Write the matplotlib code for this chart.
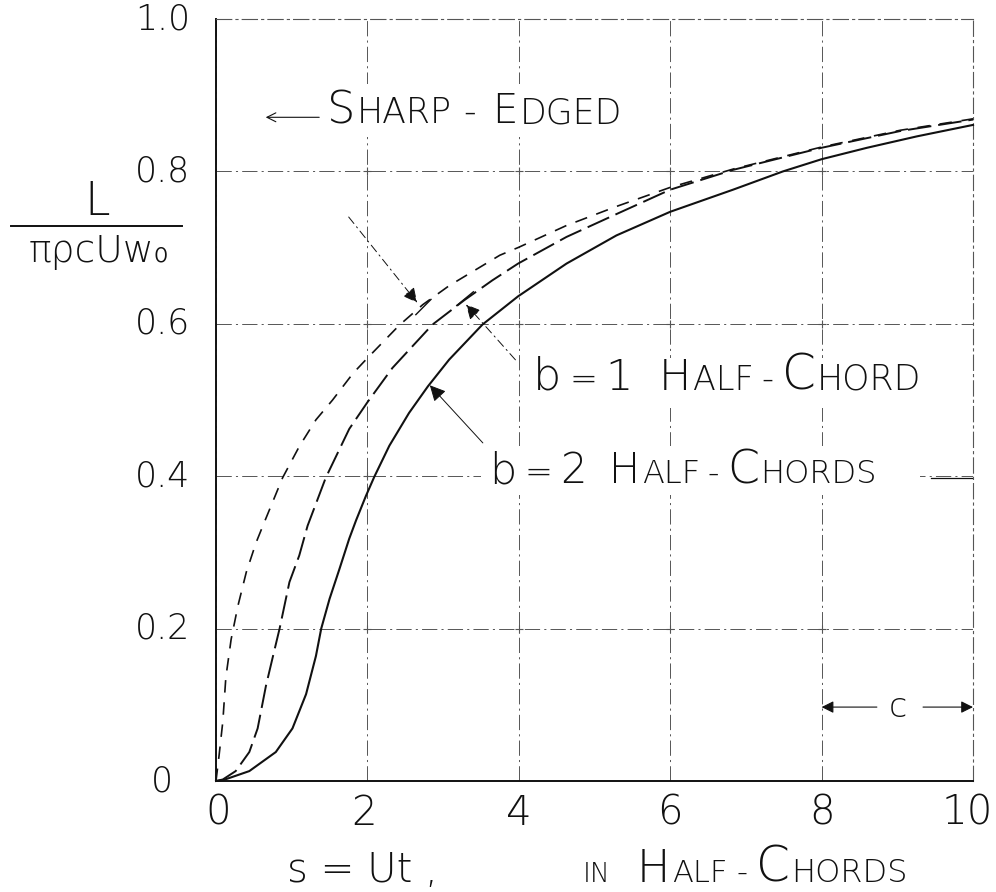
import matplotlib
matplotlib.use("Agg")
import matplotlib.pyplot as plt
from matplotlib.lines import Line2D
from matplotlib.patches import Rectangle
from matplotlib.transforms import IdentityTransform

# ---------------- data ----------------
sharp_x = [0, 0.04, 0.09, 0.13, 0.20, 0.29, 0.40, 0.53, 0.64, 0.88, 1.10, 1.32, 1.54,
           1.81, 2.00, 2.42, 2.73, 3.08, 3.75, 3.99, 4.63, 5.29, 6.0, 6.83, 8.0, 9.04, 10.0]
sharp_y = [0, 0.033, 0.078, 0.136, 0.186, 0.230, 0.274, 0.313, 0.340, 0.398, 0.439, 0.474, 0.500,
           0.535, 0.555, 0.598, 0.625, 0.650, 0.690, 0.700, 0.729, 0.754, 0.779, 0.803, 0.832, 0.854, 0.869]

b1_x = [0, 0.09, 0.26, 0.44, 0.55, 0.66, 0.77, 0.84, 0.97, 1.10, 1.21, 1.45, 1.76, 2.00,
        2.33, 2.86, 3.28, 3.65, 3.99, 4.63, 5.29, 6.0, 6.83, 8.0, 9.04, 10.0]
b1_y = [0, 0.002, 0.013, 0.038, 0.069, 0.125, 0.171, 0.200, 0.261, 0.296, 0.335, 0.398, 0.462, 0.497,
        0.542, 0.599, 0.631, 0.657, 0.679, 0.714, 0.744, 0.776, 0.802, 0.831, 0.853, 0.868]

b2_x = [0, 0.09, 0.44, 0.79, 1.01, 1.19, 1.32, 1.39, 1.50, 1.63, 1.76, 1.85, 1.98, 2.09,
        2.29, 2.55, 2.80, 3.08, 3.52, 3.99, 4.63, 5.29, 6.0, 6.83, 7.49, 8.0, 8.60, 9.26, 10.0]
b2_y = [0, 0.001, 0.013, 0.038, 0.069, 0.114, 0.164, 0.200, 0.239, 0.278, 0.318, 0.342, 0.374, 0.399,
        0.440, 0.483, 0.518, 0.553, 0.599, 0.636, 0.679, 0.716, 0.747, 0.776, 0.800, 0.816, 0.831, 0.846, 0.861]

x_ticks = [0, 2, 4, 6, 8, 10]
x_tick_labels = ["0", "2", "4", "6", "8", "10"]
y_ticks = [0, 0.2, 0.4, 0.6, 0.8, 1.0]
y_tick_labels = ["0", "0.2", "0.4", "0.6", "0.8", "1.0"]

# ---------------- style ----------------
plt.rcParams["font.family"] = ["DejaVu Sans"]
plt.rcParams["font.weight"] = "light"
plt.rcParams["lines.scale_dashes"] = False

W, H = 996, 892
INK = "#111111"
GRID = "#555555"
grid_ls = (0, (11, 3, 1.5, 3))

fig = plt.figure(figsize=(W / 100, H / 100), dpi=100)
ax = fig.add_axes([216 / W, 111 / H, 757 / W, 762 / H])
ax.set_xlim(0, 10)
ax.set_ylim(0, 1.0)
renderer = fig.canvas.get_renderer()

# grid
ax.set_xticks(x_ticks)
ax.set_yticks(y_ticks)
ax.grid(True, color=GRID, lw=0.7, ls=grid_ls, zorder=0.5)
ax.set_axisbelow(True)
for xs in x_ticks[1:-1]:
    for ys in y_ticks[1:-1]:
        ax.plot([xs], [ys], marker="+", ms=6, mew=0.8, color=GRID, zorder=1)

# spines
for side in ("left", "bottom"):
    ax.spines[side].set_color(INK)
    ax.spines[side].set_linewidth(1.4)
for side in ("top", "right"):
    ax.spines[side].set_color(GRID)
    ax.spines[side].set_linewidth(0.8)
    ax.spines[side].set_linestyle(grid_ls)

# white patches behind the lettered notes (hide grid lines there)
for (x0, y0, w, h) in [(1.45, 0.845, 4.4, 0.07), (4.1, 0.49, 5.0, 0.065), (3.5, 0.375, 5.8, 0.065)]:
    ax.add_patch(Rectangle((x0, y0), w, h, fc="white", ec="none", zorder=2))

# curves
ax.plot(sharp_x, sharp_y, color=INK, lw=1.2, dashes=(9, 7), zorder=3, clip_on=False)
ax.plot(b1_x, b1_y, color=INK, lw=1.4, dashes=(17, 5), zorder=3, clip_on=False)
ax.plot(b2_x, b2_y, color=INK, lw=1.5, zorder=3, clip_on=False)

# tick labels
ax.tick_params(axis="both", length=0, labelleft=False, labelbottom=False)
xtr = ax.get_xaxis_transform()
for v, s in zip(x_ticks, x_tick_labels):
    xpos = v + (0.03 if v == 0 else 0) - (0.08 if v == 10 else 0) - (0.05 if v == 2 else 0)
    ax.text(xpos, -0.042, s, transform=xtr, ha="center", va="center",
            fontsize=29, color=INK, clip_on=False)
ytr = ax.get_yaxis_transform()
for v, s in zip(y_ticks, y_tick_labels):
    if s == "0":
        ax.text(-0.0713, v, s, transform=ytr, ha="center", va="center",
                fontsize=25, color=INK, clip_on=False)
    else:
        ax.text(-0.034, v, s, transform=ytr, ha="right", va="center",
                fontsize=25, color=INK, clip_on=False)


# ---------------- hand-lettered notes (small-caps pieces placed one after another) ----------------
def letters(parts, x_start_px, baseline_px, target=ax):
    xd = x_start_px
    for s, size, gap in parts:
        xd += gap
        t = target.text(xd, H - baseline_px, s, transform=IdentityTransform(), fontsize=size,
                        ha="left", va="baseline", color=INK, zorder=4)
        xd = t.get_window_extent(renderer).x1


letters([("S", 32, 0), ("HARP", 25, 1), ("-", 25, 12), ("E", 29, 16), ("DGED", 25, 2)], 327, 123)
letters([("b", 32, 0), ("=", 24, 8), ("1", 31, 8), ("H", 31, 26), ("ALF", 24, 2),
         ("-", 24, 8), ("C", 35, 8), ("HORD", 25, 1)], 533, 390)
letters([("b", 31, 0), ("=", 24, 8), ("2", 30, 8), ("H", 30, 22), ("ALF", 23, 2),
         ("-", 23, 8), ("C", 33, 8), ("HORDS", 23, 1)], 489, 483)
ax.plot([9.45, 10.0], [0.398, 0.398], color=INK, lw=0.9, zorder=4)

# annotation arrows
ax.annotate("", xy=(0.62, 0.871), xytext=(1.40, 0.871),
            arrowprops=dict(arrowstyle="->", color=INK, lw=0.8, mutation_scale=16), zorder=4)
ax.annotate("", xy=(2.68, 0.625), xytext=(1.73, 0.743),
            arrowprops=dict(arrowstyle="-|>", color=INK, lw=0.7, mutation_scale=22,
                            linestyle=(0, (6, 3, 1, 3))), zorder=4)
ax.plot([2.64, 2.84], [0.612, 0.632], color=INK, lw=1.0, zorder=4)
ax.annotate("", xy=(3.28, 0.628), xytext=(3.98, 0.55),
            arrowprops=dict(arrowstyle="-|>", color=INK, lw=0.7, mutation_scale=22,
                            linestyle=(0, (6, 3, 1, 3))), zorder=4)
ax.plot([3.18, 3.40], [0.624, 0.642], color=INK, lw=1.0, zorder=4)
ax.annotate("", xy=(2.80, 0.522), xytext=(3.55, 0.441),
            arrowprops=dict(arrowstyle="-|>", color=INK, lw=0.7, mutation_scale=24), zorder=4)

# c dimension
ax.text(9.01, 0.097, "c", ha="center", va="center", fontsize=24, color=INK, zorder=4)
ax.annotate("", xy=(8.0, 0.097), xytext=(8.73, 0.097),
            arrowprops=dict(arrowstyle="-|>", color=INK, lw=0.8, mutation_scale=18,
                            shrinkA=0, shrinkB=0), zorder=4)
ax.annotate("", xy=(10.0, 0.097), xytext=(9.34, 0.097),
            arrowprops=dict(arrowstyle="-|>", color=INK, lw=0.8, mutation_scale=18,
                            shrinkA=0, shrinkB=0), zorder=4)

# x-axis label
fig.text(287 / W, 1 - 882 / H, "s = Ut ,", ha="left", va="baseline", fontsize=29, color=INK)
letters([("IN", 19, 0), ("H", 32, 26), ("ALF", 22, 2), ("-", 22, 9), ("C", 35, 9),
         ("HORDS", 23, 1)], 583, 882, target=fig)

# y-axis label (fraction)
fig.text(97 / W, 1 - 202 / H, "L", ha="center", va="center", fontsize=33, color=INK)
fig.add_artist(Line2D([11 / W, 182 / W], [1 - 226 / H] * 2, transform=fig.transFigure,
                      color=INK, lw=1.4))
fig.text(99 / W, 1 - 253 / H, "πρcUw₀", ha="center", va="center", fontsize=27, color=INK)

fig.savefig("out.png", dpi=100, facecolor="white")
